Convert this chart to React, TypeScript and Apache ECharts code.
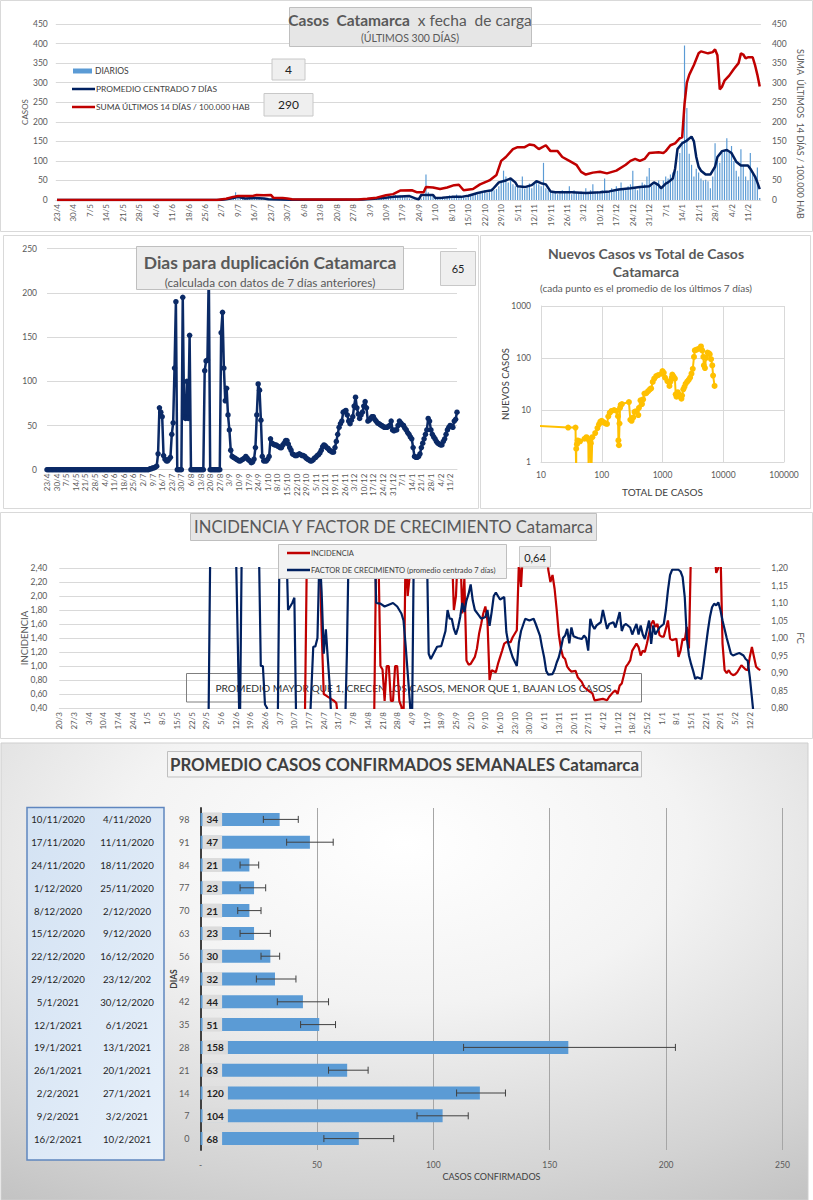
import React, { useEffect, useRef } from "react";
import * as echarts from "echarts";

const FONT = "Lato, 'Noto Sans', 'DejaVu Sans', sans-serif";
const GREY = "#595959";
const DARK = "#404040";
const GRIDC = "#d9d9d9";
const NAVY = "#002060";
const RED = "#c00000";
const LBLUE = "#5b9bd5";
const GOLD = "#ffc000";

function buildDates(y: number, m: number, d: number, n: number): string[] {
  const out: string[] = [];
  const dt = new Date(Date.UTC(y, m - 1, d));
  for (let i = 0; i < n; i++) {
    out.push(dt.getUTCDate() + "/" + (dt.getUTCMonth() + 1));
    dt.setUTCDate(dt.getUTCDate() + 1);
  }
  return out;
}

// ---------- Panel 1 : Casos Catamarca x fecha de carga ----------
const DATES_P1 = buildDates(2020, 4, 23, 300);
const DIARIOS = [
  0,0,0,0,0,0,0,0,0,0, 0,0,0,0,0,0,0,0,0,0, 0,0,0,0,0,0,0,0,0,0, 0,0,0,0,0,0,0,0,0,0,
  0,0,0,0,0,0,0,0,0,0, 0,0,0,0,0,0,0,0,0,0, 0,0,0,0,0,0,0,0,0,0,
  2,3,4,6,5,8,20, 6,5,3,2,4,3,5, 4,6,3,4,2,3,2, 1,0,1,0,1,0,1,
  0,1,0,0,1,2,0, 1,0,0,1,0,2,1, 0,0,1,0,0,2,1, 0,1,0,0,3,1,0,
  2,1,0,2,3,4,2, 5,3,6,4,8,5,10, 7,12,9,11,13,10,12, 8,10,6,4,2,1,3,
  2,4,8,65,20,15,12, 4,6,5,8,3,10,12, 8,9,14,6,10,7,5, 10,12,15,18,14,20,22,
  25,18,20,30,25,28,35, 50,75,60,45,55,40,35, 38,30,60,28,35,42,30, 45,50,40,35,95,30,25,
  20,18,22,15,20,25,18, 20,35,15,25,18,20,22, 15,30,18,25,40,20,22, 18,25,55,20,22,30,25,
  35,28,45,30,25,35,40, 75,30,25,35,45,40,60, 82,35,40,45,50,35,50, 60,55,65,70,80,75,120,
  150,395,235,118,90,60,80, 70,55,50,52,48,30,60, 145,110,95,120,125,158,120, 138,100,75,60,130,90,60,
  50,120,70,60,83,5,
];
const PROM7: [number, number][] = [
  [0,0],[69,0],[72,2],[75,5],[77,8],[80,4],[84,5],[88,4],[90,2],[95,1],[100,0.5],[110,0.5],[120,0.8],
  [130,1.5],[135,3],[139,5],[143,8],[146,9],[150,10],[153,3],[154,2],[155,13],[160,13],[161,5],[164,6],
  [168,8],[172,8],[175,11],[179,18],[182,22],[185,25],[188,45],[191,50],[193,55],[195,45],[196,35],
  [199,33],[202,38],[204,48],[206,43],[208,40],[210,22],[212,20],[219,20],[225,18],[231,20],[235,22],
  [239,27],[244,30],[248,33],[252,35],[254,45],[256,38],[257,30],[259,42],[260,45],[262,55],[263,80],
  [264,130],[266,145],[268,152],[270,162],[271,150],[272,110],[273,85],[274,75],[276,65],[278,65],
  [279,75],[280,85],[281,110],[283,125],[285,128],[287,120],[289,98],[291,88],[294,88],[295,80],
  [297,60],[298,45],[299,28],
];
const SUMA14: [number, number][] = [
  [0,0],[68,0],[72,3],[75,8],[77,10],[83,10],[85,13],[88,12],[91,13],[92,6],[96,5],[98,4],[100,2],
  [110,1],[120,1],[128,1],[132,3],[136,6],[140,12],[143,15],[146,24],[151,25],[153,20],[156,20],
  [157,33],[160,32],[163,28],[166,32],[169,38],[171,39],[173,25],[177,28],[180,40],[184,50],[187,64],
  [189,100],[191,110],[194,130],[196,135],[199,135],[201,142],[203,140],[205,130],[208,140],[210,125],
  [213,125],[215,110],[218,100],[221,90],[223,72],[225,65],[228,70],[231,72],[234,68],[238,75],
  [242,90],[244,100],[246,105],[248,100],[250,105],[252,120],[256,122],[258,120],[259,125],[261,140],
  [263,145],[265,158],[266,160],[267,245],[268,300],[269,320],[271,345],[273,375],[274,380],[277,375],
  [279,378],[280,385],[281,370],[282,283],[283,290],[284,305],[286,318],[288,335],[290,350],[291,375],
  [292,372],[293,362],[294,365],[296,365],[297,345],[298,320],[299,290],
];
const P1_LAST_DIARIO = "4";
const P1_LAST_SUMA = "290";

// ---------- Panel 2 : Dias para duplicación ----------
const DATES_P2 = buildDates(2020, 4, 23, 300);
const DUPLICACION = [
  0,0,0,0,0,0,0,0,0,0, 0,0,0,0,0,0,0,0,0,0, 0,0,0,0,0,0,0,0,0,0, 0,0,0,0,0,0,0,0,0,0,
  0,0,0,0,0,0,0,0,0,0, 0,0,0,0,0,0,0,0,0,0, 0,0,0,0,0,0,0,0,0,0, 0,0,0,0,0,
  1,1,2,2,3,4,18,70,65,60,
  16,12,10,10,12,14,40,53,115,190,
  0,0,0,0,195,60,58,100,58,152,
  0,0,0,0,0,0,0,0,0,0,
  112,123,124,225,0,0,0,0,0,0,
  0,0,155,178,115,78,92,62,45,22,
  15,14,13,12,11,10,10,11,12,13,
  15,13,11,10,8,9,12,25,62,97,
  90,56,15,10,10,10,12,15,35,30,
  29,28,28,27,26,25,25,28,30,33,
  33,29,25,22,18,17,16,16,17,18,
  17,16,16,15,13,12,11,10,10,11,
  13,14,16,17,19,22,26,28,27,25,
  24,22,21,20,20,25,32,40,48,52,
  55,65,66,67,62,55,52,56,60,72,
  82,70,63,58,62,65,72,77,70,55,
  56,58,60,60,57,55,53,52,51,50,
  49,48,48,48,49,50,55,45,44,45,
  45,50,55,53,51,50,47,45,42,40,
  37,35,25,15,14,14,15,18,25,30,
  35,40,45,58,55,45,40,37,35,32,
  30,29,28,28,32,35,40,45,48,50,
  49,48,55,57,65,
];
const P2_LAST = "65";

// ---------- Panel 3 : Nuevos casos vs total (log-log) ----------
const NUEVOS_VS_TOTAL: [number, number][] = [
  [6,5.1],[28,4.6],[37,4.6],[38,0.5],[38,1.8],[39,2.2],[40,2.6],[44,2.5],[52,2.8],[56,3.0],[60,2.8],
  [61,0.5],[62,2.6],[66,2.3],[67,0.5],[70,3.0],[78,3.6],[85,4.5],[90,5.3],[95,6.0],[100,6.2],[108,5.8],
  [115,5.5],[122,5.4],[128,7.5],[135,8.8],[145,9.6],[160,10],[175,9.6],[185,7.6],[188,2.6],[192,2.1],
  [196,5.5],[200,11],[205,12.5],[215,13],[280,14.2],[295,6.5],[310,6.2],[330,7.2],[346,9.2],[370,9.5],
  [400,8.0],[410,11],[434,15.3],[460,13],[480,16],[504,20.7],[540,21],[580,23],[620,25],[650,26],
  [690,34.6],[730,40],[787,45],[850,47],[969,50],[1000,56],[1050,52],[1100,42],[1200,36],[1300,29],
  [1350,35],[1420,42],[1450,48],[1520,44],[1600,40],[1650,20],[1700,18],[1780,22],[1850,20],[1950,18],
  [2050,16.5],[2100,19],[2200,25],[2300,28],[2400,32],[2550,35],[2700,38],[2850,42],[3000,50],[3150,62],
  [3300,105],[3400,140],[3650,145],[4000,152],[4300,167],[4500,140],[4700,105],[4800,72],[5000,64],
  [5200,100],[5500,127],[5800,123],[6000,118],[6300,95],[6600,72],[6800,46],[7200,29],
];

// ---------- Panel 4 : Incidencia y factor de crecimiento ----------
const DATES_P4 = buildDates(2020, 3, 20, 335);
const INCIDENCIA: [number, number][] = [
  [0,0.2],[117,0.2],[118,2.7],[124,2.7],[125,1.5],[126,0.6],[127,0.58],[128,0.56],[129,0.54],[130,0.52],
  [131,0.5],[132,0.47],[133,0.2],[150,0.2],[151,2.7],[152,2.7],[153,1.0],[154,0.95],[155,0.5],[156,1.0],
  [157,1.0],[158,0.5],[159,0.5],[160,1.0],[161,1.0],[162,0.5],[163,0.42],[164,0.2],[165,2.7],[166,2.0],
  [167,2.3],[168,2.7],[187,2.7],[188,1.8],[189,2.0],[190,2.7],[191,2.7],[192,1.75],[193,2.25],[194,1.08],
  [195,1.02],[196,1.03],[198,1.13],[199,1.25],[200,1.46],[201,1.6],[202,1.75],[203,1.85],[204,1.65],
  [205,0.8],[206,0.94],[208,0.91],[209,1.03],[211,1.22],[212,1.32],[213,1.34],[215,1.34],[216,1.41],
  [218,1.51],[219,2.5],[220,2.13],[221,2.7],[232,2.7],[233,2.37],[234,2.2],[235,2.3],[236,2.1],[237,1.8],
  [238,1.45],[239,1.25],[240,1.13],[241,1.1],[242,0.99],[243,0.95],[244,0.92],[246,0.93],[247,0.84],
  [249,0.77],[250,0.7],[252,0.65],[254,0.61],[255,0.51],[257,0.52],[259,0.53],[261,0.51],[262,0.56],
  [264,0.63],[265,0.65],[266,0.6],[267,0.72],[268,0.75],[270,0.99],[271,1.03],[272,1.08],[273,1.22],
  [275,1.32],[276,1.27],[277,1.15],[278,1.22],[279,1.2],[280,1.32],[281,1.46],[282,1.6],[283,1.65],
  [284,1.56],[285,1.6],[286,1.44],[287,1.42],[288,1.42],[289,1.53],[290,1.65],[291,1.39],[292,1.37],
  [294,1.39],[295,1.13],[296,1.22],[297,1.39],[298,1.37],[299,1.56],[300,1.25],[301,2.7],[312,2.7],
  [313,2.33],[314,2.4],[315,2.7],[316,1.32],[317,0.94],[318,0.9],[319,0.94],[320,0.89],[321,0.87],
  [322,0.88],[323,0.91],[325,1.01],[327,0.95],[328,0.94],[329,1.13],[330,1.27],[331,1.13],[332,0.99],
  [333,0.96],[334,0.94],
];
const FACTOR_CREC: [number, number][] = [
  [0,0.7],[71,0.7],[72,1.3],[84,1.3],[85,1.0],[86,0.7],[87,1.3],[95,1.3],[96,0.92],[97,0.92],[98,0.81],
  [99,0.8],[100,0.7],[104,0.7],[105,1.3],[108,1.3],[109,1.08],[111,1.1],[112,1.115],[113,0.7],[119,0.7],
  [121,0.975],[122,0.976],[123,1.0],[124,1.25],[125,1.13],[126,0.955],[127,1.025],[128,0.935],[129,0.85],
  [130,0.7],[136,0.7],[137,0.95],[138,1.3],[150,1.3],[151,1.1],[153,1.098],[155,1.09],[157,1.095],
  [159,1.1],[161,1.09],[163,1.07],[164,1.05],[165,0.98],[166,0.9],[167,0.82],[168,0.72],[169,1.3],
  [175,1.3],[176,0.955],[177,0.94],[180,0.975],[182,0.977],[184,1.02],[185,1.08],[186,1.055],[187,1.055],
  [188,1.026],[189,1.01],[190,1.03],[191,1.06],[192,1.1],[193,1.074],[194,1.107],[195,1.126],[196,1.153],
  [197,1.107],[198,1.08],[200,1.064],[201,1.055],[203,1.06],[204,1.08],[205,1.035],[206,1.074],[207,1.12],
  [208,1.13],[210,1.11],[212,1.117],[213,1.017],[214,0.983],[215,0.964],[216,0.945],[218,0.92],[219,0.988],
  [220,1.02],[222,1.055],[224,1.05],[226,1.055],[227,1.04],[229,1.007],[230,0.974],[231,0.945],[232,0.906],
  [233,0.895],[235,0.897],[236,0.91],[237,0.93],[238,0.945],[239,0.97],[240,1.0],[241,1.007],[242,1.026],
  [243,0.985],[244,1.03],[245,1.005],[247,1.0],[249,0.997],[250,1.007],[251,1.0],[252,0.964],[253,1.055],
  [254,1.036],[255,1.026],[256,1.036],[258,1.045],[259,1.08],[261,1.026],[262,1.04],[264,1.045],[265,1.03],
  [267,1.074],[268,1.02],[269,1.036],[270,1.04],[272,1.03],[273,1.01],[274,1.026],[275,1.04],[276,1.01],
  [277,1.036],[278,1.01],[279,0.997],[281,1.05],[282,0.983],[283,1.036],[284,1.01],[285,1.02],[286,1.03],
  [288,1.04],[289,1.08],[290,1.136],[291,1.18],[292,1.195],[295,1.195],[296,1.19],[297,1.174],[298,1.117],
  [299,1.0],[300,0.95],[301,0.926],[302,0.906],[303,0.883],[304,0.888],[306,0.883],[307,0.926],[308,0.974],
  [309,1.02],[310,1.06],[311,1.088],[312,1.098],[313,1.093],[314,1.102],[315,1.08],[316,1.05],[318,1.0],
  [319,0.978],[320,0.955],[321,0.95],[323,0.955],[324,0.957],[326,0.95],[327,0.94],[328,0.935],[329,0.888],
  [330,0.83],[331,0.77],[334,0.64],
];
const P4_LAST_FC = "0,64";

// ---------- Panel 5 : Promedio casos confirmados semanales ----------
const DIAS_LBL = ["98","91","84","77","70","63","56","49","42","35","28","21","14","7","0"];
const SEMANA_FIN = ["10/11/2020","17/11/2020","24/11/2020","1/12/2020","8/12/2020","15/12/2020","22/12/2020","29/12/2020","5/1/2021","12/1/2021","19/1/2021","26/1/2021","2/2/2021","9/2/2021","16/2/2021"];
const SEMANA_INI = ["4/11/2020","11/11/2020","18/11/2020","25/11/2020","2/12/2020","9/12/2020","16/12/2020","23/12/202","30/12/2020","6/1/2021","13/1/2021","20/1/2021","27/1/2021","3/2/2021","10/2/2021"];
const PROM_SEMANAL = [34,47,21,23,21,23,30,32,44,51,158,63,120,104,68];
const ERR_LO = [27,37,17,17,16,17,26,24,33,43,113,55,110,93,53];
const ERR_HI = [42,57,25,28,26,30,34,41,55,58,204,72,131,115,83];

// ---------- layout ----------
const G1 = { left: 55.8, top: 24, width: 705.1, height: 176 };
const G2 = { left: 47, top: 248.7, width: 410, height: 221 };
const G3 = { left: 541, top: 306, width: 243, height: 156 };
const G4 = { left: 59.3, top: 568, width: 701, height: 140 };
const G5 = { left: 200.5, top: 808, width: 582, height: 342 };

const fmtComma = (v: number) => v.toFixed(2).replace(".", ",");

function R(x: number, y: number, w: number, h: number, fill: any, stroke: string, z: number, lineWidth = 1) {
  return { type: "rect", silent: true, z, shape: { x, y, width: w, height: h }, style: { fill, stroke, lineWidth } };
}
function T(x: number, y: number, text: string, fontSize: number, opt: any = {}) {
  return {
    type: "text", silent: true, z: opt.z ?? 60, x, y, rotation: opt.rotation ?? 0,
    style: {
      text, fontFamily: FONT, fontSize, fontWeight: opt.bold ? "bold" : "normal",
      fill: opt.color ?? GREY, align: opt.align ?? "center", verticalAlign: "middle",
    },
  };
}
function L(x1: number, y1: number, x2: number, y2: number, stroke: string, lineWidth: number, z = 60) {
  return { type: "line", silent: true, z, shape: { x1, y1, x2, y2 }, style: { stroke, lineWidth } };
}

function buildGraphic() {
  const g: any[] = [];
  // panel frames / backgrounds
  g.push(R(0.5, 0.5, 812, 231, "#ffffff", GRIDC, -10));
  g.push(R(3.5, 235.5, 475, 273, "#ffffff", GRIDC, -10));
  g.push(R(480.5, 235.5, 330, 273, "#ffffff", GRIDC, -10));
  g.push(R(0.5, 512.5, 812, 226, "#ffffff", GRIDC, -10));
  g.push(R(1, 743, 807, 457, {
    type: "radial", x: 0.5, y: 0.22, r: 1.0,
    colorStops: [
      { offset: 0, color: "#ffffff" }, { offset: 0.35, color: "#f3f3f3" },
      { offset: 0.75, color: "#d3d3d3" }, { offset: 1, color: "#bcbcbc" },
    ],
  }, "#cfcfcf", -10));

  // ---- panel 1
  g.push(R(289.5, 7.5, 242, 39, "#e6e6e6", "#bfbfbf", 40));
  g.push({
    type: "text", silent: true, z: 61, x: 410, y: 20,
    style: {
      text: "{b|Casos  Catamarca}{n|  x fecha  de carga}",
      rich: {
        b: { fontFamily: FONT, fontSize: 15.5, fontWeight: "bold", fill: GREY, color: GREY },
        n: { fontFamily: FONT, fontSize: 15.5, fontWeight: "normal", fill: GREY, color: GREY },
      },
      align: "center", verticalAlign: "middle",
    },
  });
  g.push(T(410, 37.5, "(ÚLTIMOS 300 DÍAS)", 10.5));
  g.push(R(73, 68.5, 19, 5, LBLUE, "none", 40, 0));
  g.push(T(95, 71, "DIARIOS", 8.5, { align: "left", color: DARK }));
  g.push(L(72, 89, 95, 89, NAVY, 2.5, 40));
  g.push(T(96, 89, "PROMEDIO CENTRADO 7 DÍAS", 8.4, { align: "left", color: DARK }));
  g.push(L(72, 107, 95, 107, RED, 2.5, 40));
  g.push(T(96, 107, "SUMA ÚLTIMOS 14 DÍAS / 100.000 HAB", 8.4, { align: "left", color: DARK }));
  g.push(R(272, 59, 33, 21, "#efefef", "#c8c8c8", 40));
  g.push(T(288.5, 69.5, P1_LAST_DIARIO, 12, { color: "#222222" }));
  g.push(R(264, 93.5, 49, 22.5, "#efefef", "#c8c8c8", 40));
  g.push(T(288.5, 104.8, P1_LAST_SUMA, 12, { color: "#222222" }));
  g.push(T(800, 134, "SUMA  ÚLTIMOS  14 DÍAS / 100.000 HAB", 9, { rotation: -Math.PI / 2 }));

  // ---- panel 2
  g.push(R(136.5, 246.5, 267, 43, "#ececec", "#bfbfbf", 40));
  g.push(T(270, 262, "Dias para duplicación Catamarca", 17.5, { bold: true }));
  g.push(T(270, 282, "(calculada con datos de 7 días anteriores)", 11.8));
  g.push(R(440.5, 251.5, 35, 34, "#efefef", "#c8c8c8", 40));
  g.push(T(458, 268.5, P2_LAST, 11, { color: "#222222" }));

  // ---- panel 3
  g.push(T(646, 253, "Nuevos Casos vs Total de Casos", 14, { bold: true }));
  g.push(T(646, 271.5, "Catamarca", 14, { bold: true }));
  g.push(T(646, 288, "(cada punto es el promedio de los últimos 7 días)", 10));

  // ---- panel 4
  g.push(R(190.5, 513.5, 406, 27, "#e6e6e6", "#bfbfbf", 40));
  g.push(T(393.5, 527, "INCIDENCIA Y FACTOR DE CRECIMIENTO Catamarca", 16.6));
  g.push(R(278.5, 544.5, 228, 34, "#f2f2f2", "#bfbfbf", 40));
  g.push(L(287, 553, 310, 553, RED, 2.5, 41));
  g.push(T(311, 553, "INCIDENCIA", 7.5, { align: "left", color: DARK }));
  g.push(L(287, 570, 310, 570, NAVY, 2.5, 41));
  g.push(T(311, 570, "FACTOR DE CRECIMIENTO (promedio centrado 7 días)", 7.6, { align: "left", color: DARK }));
  g.push(R(519.5, 546.5, 31, 20.5, "#efefef", "#c8c8c8", 40));
  g.push(T(535, 557, P4_LAST_FC, 11, { color: "#222222" }));
  g.push(R(186.5, 673.5, 455, 28.5, "rgba(255,255,255,0)", "#7f7f7f", 1));
  g.push(T(413.5, 688, "PROMEDIO MAYOR QUE 1, CRECEN LOS CASOS, MENOR QUE 1, BAJAN LOS CASOS", 10.2, { color: "#333333", z: 1 }));

  // ---- panel 5
  g.push(R(167.5, 751.5, 474, 25.5, "#f4f4f4", "#bfbfbf", 40));
  g.push(T(404.5, 764.5, "PROMEDIO CASOS CONFIRMADOS SEMANALES Catamarca", 16.9, { bold: true, color: DARK }));
  g.push(R(27, 807.5, 137, 352.5, {
    type: "linear", x: 0, y: 0, x2: 1, y2: 1,
    colorStops: [{ offset: 0, color: "#d3e2f3" }, { offset: 1, color: "#e7f0fa" }],
  }, "#5f86bf", 5, 1.5));
  const band = G5.height / SEMANA_FIN.length;
  SEMANA_FIN.forEach((s, i) => {
    const y = G5.top + (i + 0.5) * band;
    g.push(T(58, y, s, 9.7, { color: "#1f1f1f" }));
    g.push(T(127, y, SEMANA_INI[i], 9.7, { color: "#1f1f1f" }));
  });
  return g;
}

function buildOption() {
  const axisLbl = (fs: number, extra: any = {}) => ({ fontFamily: FONT, fontSize: fs, color: GREY, ...extra });
  const gridBase = { containLabel: false, outerBoundsMode: "none" };
  const noMove = { nameMoveOverlap: false };
  return {
    animation: false,
    textStyle: { fontFamily: FONT },
    grid: [
      { ...gridBase, ...G1 },
      { ...gridBase, ...G2 },
      { ...gridBase, ...G3 },
      { ...gridBase, ...G4 },
      { ...gridBase, ...G5 },
    ],
    xAxis: [
      {
        type: "category", gridIndex: 0, data: DATES_P1, boundaryGap: true,
        axisLine: { lineStyle: { color: GRIDC } }, axisTick: { show: false },
        axisLabel: axisLbl(8, { interval: 6, rotate: 90, margin: 4 }),
      },
      {
        type: "category", gridIndex: 1, data: DATES_P2, boundaryGap: false,
        axisLine: { lineStyle: { color: GRIDC } }, axisTick: { show: false },
        axisLabel: axisLbl(8, { interval: 6, rotate: 90, margin: 4 }),
      },
      {
        ...noMove,
        type: "log", logBase: 10, gridIndex: 2, min: 10, max: 100000,
        axisLine: { show: true, lineStyle: { color: GRIDC } }, axisTick: { show: false },
        splitLine: { show: true, lineStyle: { color: GRIDC } },
        axisLabel: axisLbl(8.5, { margin: 8, formatter: (v: number) => String(Math.round(v)) }),
        name: "TOTAL DE CASOS", nameLocation: "middle", nameGap: 25,
        nameTextStyle: { fontFamily: FONT, fontSize: 10, color: DARK },
      },
      {
        type: "category", gridIndex: 3, data: DATES_P4, boundaryGap: false,
        axisLine: { lineStyle: { color: GRIDC } }, axisTick: { show: false },
        axisLabel: axisLbl(8, { interval: 6, rotate: 90, margin: 4 }),
      },
      {
        ...noMove,
        type: "value", gridIndex: 4, min: 0, max: 250, interval: 50,
        axisLine: { show: false }, axisTick: { show: false },
        splitLine: { show: true, lineStyle: { color: "#a6a6a6" } },
        axisLabel: axisLbl(8.5, { margin: 10, formatter: (v: number) => (v === 0 ? "-" : String(v)) }),
        name: "CASOS CONFIRMADOS", nameLocation: "middle", nameGap: 22,
        nameTextStyle: { fontFamily: FONT, fontSize: 9, color: DARK },
      },
    ],
    yAxis: [
      {
        ...noMove,
        type: "value", gridIndex: 0, min: 0, max: 450, interval: 50,
        axisLine: { show: false }, axisTick: { show: false },
        splitLine: { lineStyle: { color: GRIDC } },
        axisLabel: axisLbl(8.5, { margin: 8 }),
        name: "CASOS", nameLocation: "middle", nameGap: 27,
        nameTextStyle: { fontFamily: FONT, fontSize: 8, color: GREY },
      },
      {
        type: "value", gridIndex: 0, position: "right", min: 0, max: 450, interval: 50,
        axisLine: { show: false }, axisTick: { show: false }, splitLine: { show: false },
        axisLabel: axisLbl(8.5, { margin: 11 }),
      },
      {
        type: "value", gridIndex: 1, min: 0, max: 250, interval: 50,
        axisLine: { show: false }, axisTick: { show: false },
        splitLine: { lineStyle: { color: GRIDC } },
        axisLabel: axisLbl(8.5, { margin: 10 }),
      },
      {
        ...noMove,
        type: "log", logBase: 10, gridIndex: 2, min: 1, max: 1000,
        axisLine: { show: true, lineStyle: { color: GRIDC } }, axisTick: { show: false },
        splitLine: { show: true, lineStyle: { color: GRIDC } },
        axisLabel: axisLbl(8.5, { margin: 10, formatter: (v: number) => String(Math.round(v)) }),
        name: "NUEVOS CASOS", nameLocation: "middle", nameGap: 31,
        nameTextStyle: { fontFamily: FONT, fontSize: 9.5, color: DARK },
      },
      {
        ...noMove,
        type: "value", gridIndex: 3, min: 0.4, max: 2.4, interval: 0.2,
        axisLine: { show: false }, axisTick: { show: false },
        splitLine: { lineStyle: { color: GRIDC } },
        axisLabel: axisLbl(8.5, { margin: 12, formatter: fmtComma }),
        name: "INCIDENCIA", nameLocation: "middle", nameGap: 30,
        nameTextStyle: { fontFamily: FONT, fontSize: 9.5, color: GREY },
      },
      {
        ...noMove,
        type: "value", gridIndex: 3, position: "right", min: 0.8, max: 1.2, interval: 0.05,
        axisLine: { show: false }, axisTick: { show: false }, splitLine: { show: false },
        axisLabel: axisLbl(8.5, { margin: 11, formatter: fmtComma }),
        name: "FC", nameLocation: "middle", nameGap: 35, nameRotate: -90,
        nameTextStyle: { fontFamily: FONT, fontSize: 9.5, color: GREY },
      },
      {
        ...noMove,
        type: "category", gridIndex: 4, data: DIAS_LBL, inverse: true,
        axisLine: { show: true, lineStyle: { color: "#404040", width: 2 } }, axisTick: { show: false },
        axisLabel: axisLbl(9, { margin: 11 }),
        name: "DIAS", nameLocation: "middle", nameGap: 22,
        nameTextStyle: { fontFamily: FONT, fontSize: 8.5, fontWeight: "bold", color: DARK },
      },
    ],
    series: [
      {
        type: "bar", name: "DIARIOS", xAxisIndex: 0, yAxisIndex: 0, data: DIARIOS,
        barWidth: "50%", itemStyle: { color: LBLUE }, z: 2,
      },
      {
        type: "line", name: "PROMEDIO CENTRADO 7 DÍAS", xAxisIndex: 0, yAxisIndex: 0, data: PROM7,
        symbol: "none", lineStyle: { color: NAVY, width: 2.5 }, itemStyle: { color: NAVY }, z: 3,
      },
      {
        type: "line", name: "SUMA ÚLTIMOS 14 DÍAS / 100.000 HAB", xAxisIndex: 0, yAxisIndex: 1, data: SUMA14,
        symbol: "none", lineStyle: { color: RED, width: 2.5 }, itemStyle: { color: RED }, z: 4,
      },
      {
        type: "line", name: "Dias para duplicación", xAxisIndex: 1, yAxisIndex: 2, data: DUPLICACION,
        symbol: "circle", symbolSize: 5.5, showAllSymbol: true,
        lineStyle: { color: "#0b2a66", width: 2.5 }, itemStyle: { color: "#0b2a66" }, z: 3,
      },
      {
        type: "line", name: "Nuevos vs Total", xAxisIndex: 2, yAxisIndex: 3, data: NUEVOS_VS_TOTAL,
        symbol: "circle", symbolSize: 6, showAllSymbol: true,
        lineStyle: { color: GOLD, width: 2 }, itemStyle: { color: GOLD }, z: 3,
      },
      {
        type: "line", name: "INCIDENCIA", xAxisIndex: 3, yAxisIndex: 4, data: INCIDENCIA,
        symbol: "none", lineStyle: { color: RED, width: 2.2 }, itemStyle: { color: RED }, z: 3,
      },
      {
        type: "line", name: "FACTOR DE CRECIMIENTO", xAxisIndex: 3, yAxisIndex: 5, data: FACTOR_CREC,
        symbol: "none", lineStyle: { color: NAVY, width: 2.2 }, itemStyle: { color: NAVY }, z: 4,
      },
      {
        type: "bar", name: "PROMEDIO SEMANAL", xAxisIndex: 4, yAxisIndex: 6, data: PROM_SEMANAL,
        barWidth: 13, itemStyle: { color: LBLUE }, z: 3,
        label: {
          show: true, position: "insideLeft", distance: 2, fontFamily: FONT, fontSize: 10,
          fontWeight: "bold", color: "#222222", backgroundColor: "#dcdcdc", padding: [2, 4, 2, 4], lineHeight: 10,
        },
      },
      {
        type: "custom", name: "error", xAxisIndex: 4, yAxisIndex: 6, z: 6,
        data: ERR_LO.map((lo, i) => [i, lo, ERR_HI[i]]),
        encode: { x: [1, 2], y: 0 },
        renderItem: (params: any, api: any) => {
          const yi = api.value(0);
          const a = api.coord([api.value(1), yi]);
          const b = api.coord([api.value(2), yi]);
          const st = { stroke: "#404040", lineWidth: 1 };
          return {
            type: "group",
            children: [
              { type: "line", shape: { x1: a[0], y1: a[1], x2: b[0], y2: b[1] }, style: st },
              { type: "line", shape: { x1: a[0], y1: a[1] - 3.5, x2: a[0], y2: a[1] + 3.5 }, style: st },
              { type: "line", shape: { x1: b[0], y1: b[1] - 3.5, x2: b[0], y2: b[1] + 3.5 }, style: st },
            ],
          };
        },
      },
    ],
    graphic: buildGraphic(),
  };
}

export default function App() {
  const ref = useRef<HTMLDivElement>(null);
  useEffect(() => {
    document.body.style.margin = "0";
    const chart = echarts.init(ref.current as HTMLDivElement, null, { renderer: "svg", width: 813, height: 1200 });
    chart.setOption(buildOption() as any);
    return () => chart.dispose();
  }, []);
  return <div ref={ref} style={{ width: 813, height: 1200 }} />;
}
